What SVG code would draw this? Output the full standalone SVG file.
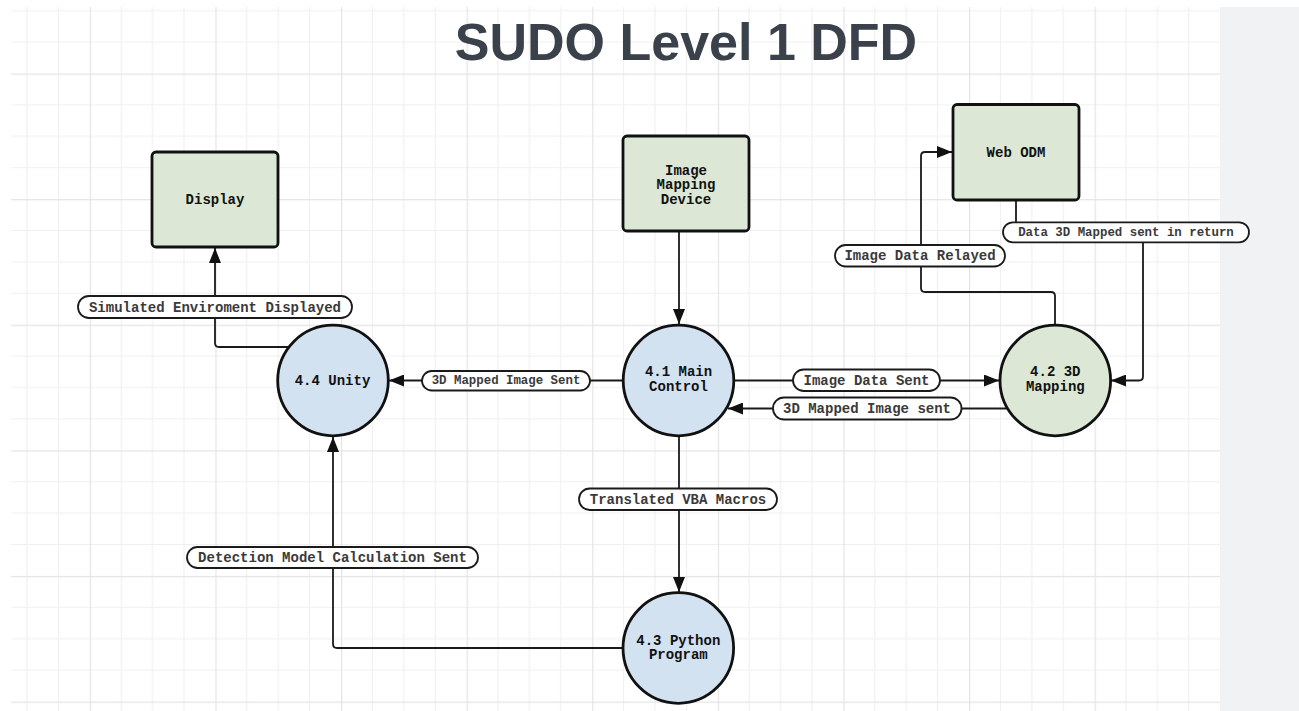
<svg xmlns="http://www.w3.org/2000/svg" width="1299" height="711" viewBox="0 0 1299 711">
  <defs>
    <pattern id="grid" patternUnits="userSpaceOnUse" x="-35.8" y="-52.1" width="125.6" height="125.6">
      <path d="M31.4,0V125.6M62.8,0V125.6M94.2,0V125.6M0,31.4H125.6M0,62.8H125.6M0,94.2H125.6" stroke="#f0f0f0" stroke-width="1.2" fill="none"/>
      <path d="M0.6,0V125.6M0,0.6H125.6" stroke="#e4e4e4" stroke-width="1.2" fill="none"/>
    </pattern>
    <marker id="arrow" markerUnits="userSpaceOnUse" markerWidth="16" markerHeight="12" refX="15" refY="6" orient="auto">
      <path d="M0,0 L15,6 L0,12 Z" fill="#111"/>
    </marker>
    <style>
      .title { font-family: "Liberation Sans", Arial, sans-serif; font-weight: bold; font-size: 52px; fill: #3a414b; }
      .box { fill: #dce8d5; stroke: #111; stroke-width: 2.8; }
      .proc-blue { fill: #d3e2f1; stroke: #111; stroke-width: 2.8; }
      .proc-green { fill: #dce8d5; stroke: #111; stroke-width: 2.8; }
      .ntext { font-family: "Liberation Mono", "Courier New", monospace; font-weight: bold; font-size: 14px; fill: #111; text-anchor: middle; dominant-baseline: central; }
      .conn { fill: none; stroke: #1a1a1a; stroke-width: 1.8; }
      .pill { fill: #ffffff; stroke: #1a1a1a; stroke-width: 1.8; }
      .ltext { font-family: "Liberation Mono", "Courier New", monospace; font-weight: bold; font-size: 14px; fill: #3a3a3a; text-anchor: middle; dominant-baseline: central; }
      .small { font-size: 12.4px; }
    </style>
  </defs>

  <rect x="0" y="0" width="1299" height="711" fill="#ffffff"/>
  <rect x="11" y="7" width="1209" height="704" fill="url(#grid)"/>
  <rect x="1220" y="7" width="79" height="704" fill="#f1f2f4"/>

  <text class="title" x="686" y="60" text-anchor="middle">SUDO Level 1 DFD</text>

  <g id="connectors">
    <path class="conn" d="M679,231 V324" marker-end="url(#arrow)"/>
    <path class="conn" d="M623,380.5 H389" marker-end="url(#arrow)"/>
    <path class="conn" d="M289,347 H219 Q215,347 215,343 V248" marker-end="url(#arrow)"/>
    <path class="conn" d="M734,380.5 H999" marker-end="url(#arrow)"/>
    <path class="conn" d="M1007,408.5 H728" marker-end="url(#arrow)"/>
    <path class="conn" d="M1055,325 V296 Q1055,292 1051,292 H925 Q921,292 921,288 V156 Q921,152 925,152 H952" marker-end="url(#arrow)"/>
    <path class="conn" d="M1016,200 V232 H1139 Q1143,232 1143,236 V376.5 Q1143,380.5 1139,380.5 H1111" marker-end="url(#arrow)"/>
    <path class="conn" d="M679,436 V592" marker-end="url(#arrow)"/>
    <path class="conn" d="M623,648 H337 Q333,648 333,644 V437" marker-end="url(#arrow)"/>

    <g id="label-3d-mapped-image-sent">
      <rect class="pill" x="422" y="371" width="168" height="19.5" rx="9.75"/>
      <text class="ltext small" x="506" y="381">3D Mapped Image Sent</text>
    </g>
    <g id="label-simulated">
      <rect class="pill" x="78" y="296" width="274" height="22" rx="11"/>
      <text class="ltext" x="215" y="307.5">Simulated Enviroment Displayed</text>
    </g>
    <g id="label-image-data-sent">
      <rect class="pill" x="793" y="369.5" width="147" height="21.5" rx="10.75"/>
      <text class="ltext" x="866.5" y="380.5">Image Data Sent</text>
    </g>
    <g id="label-3d-mapped-image-sent-return">
      <rect class="pill" x="773" y="397.5" width="188.5" height="22" rx="11"/>
      <text class="ltext" x="867" y="408.5">3D Mapped Image sent</text>
    </g>
    <g id="label-image-data-relayed">
      <rect class="pill" x="835" y="245" width="170" height="21.5" rx="10.75"/>
      <text class="ltext" x="920" y="256">Image Data Relayed</text>
    </g>
    <g id="label-data-3d-mapped-return">
      <rect class="pill" x="1003" y="222.3" width="246" height="20" rx="10"/>
      <text class="ltext small" x="1126" y="232.5">Data 3D Mapped sent in return</text>
    </g>
    <g id="label-translated-vba">
      <rect class="pill" x="579" y="488.5" width="198" height="21.5" rx="10.75"/>
      <text class="ltext" x="678" y="499.5">Translated VBA Macros</text>
    </g>
    <g id="label-detection-model">
      <rect class="pill" x="187" y="547" width="291" height="21" rx="10.5"/>
      <text class="ltext" x="332.5" y="557.5">Detection Model Calculation Sent</text>
    </g>
  </g>

  <g id="display">
    <rect class="box" x="152" y="152" width="126" height="95" rx="4"/>
    <text class="ntext" x="215" y="200">Display</text>
  </g>

  <g id="image-mapping-device">
    <rect class="box" x="623" y="136" width="126" height="95" rx="4"/>
    <text class="ntext" x="686" y="170.7">Image</text>
    <text class="ntext" x="686" y="185.3">Mapping</text>
    <text class="ntext" x="686" y="200">Device</text>
  </g>

  <g id="web-odm">
    <rect class="box" x="953" y="104.5" width="126" height="95.5" rx="4"/>
    <text class="ntext" x="1016" y="152.5">Web ODM</text>
  </g>

  <g id="unity">
    <circle class="proc-blue" cx="333" cy="380.5" r="55.3"/>
    <text class="ntext" x="332.5" y="381">4.4 Unity</text>
  </g>

  <g id="main-control">
    <circle class="proc-blue" cx="678.5" cy="380.5" r="55.3"/>
    <text class="ntext" x="678.5" y="372">4.1 Main</text>
    <text class="ntext" x="678.5" y="387">Control</text>
  </g>

  <g id="mapping-3d">
    <circle class="proc-green" cx="1055.3" cy="380.5" r="55.3"/>
    <text class="ntext" x="1055.3" y="372.3">4.2 3D</text>
    <text class="ntext" x="1055.3" y="386.8">Mapping</text>
  </g>

  <g id="python-program">
    <circle class="proc-blue" cx="678.3" cy="648" r="55.3"/>
    <text class="ntext" x="678.3" y="640.7">4.3 Python</text>
    <text class="ntext" x="678.3" y="654.5">Program</text>
  </g>
</svg>
